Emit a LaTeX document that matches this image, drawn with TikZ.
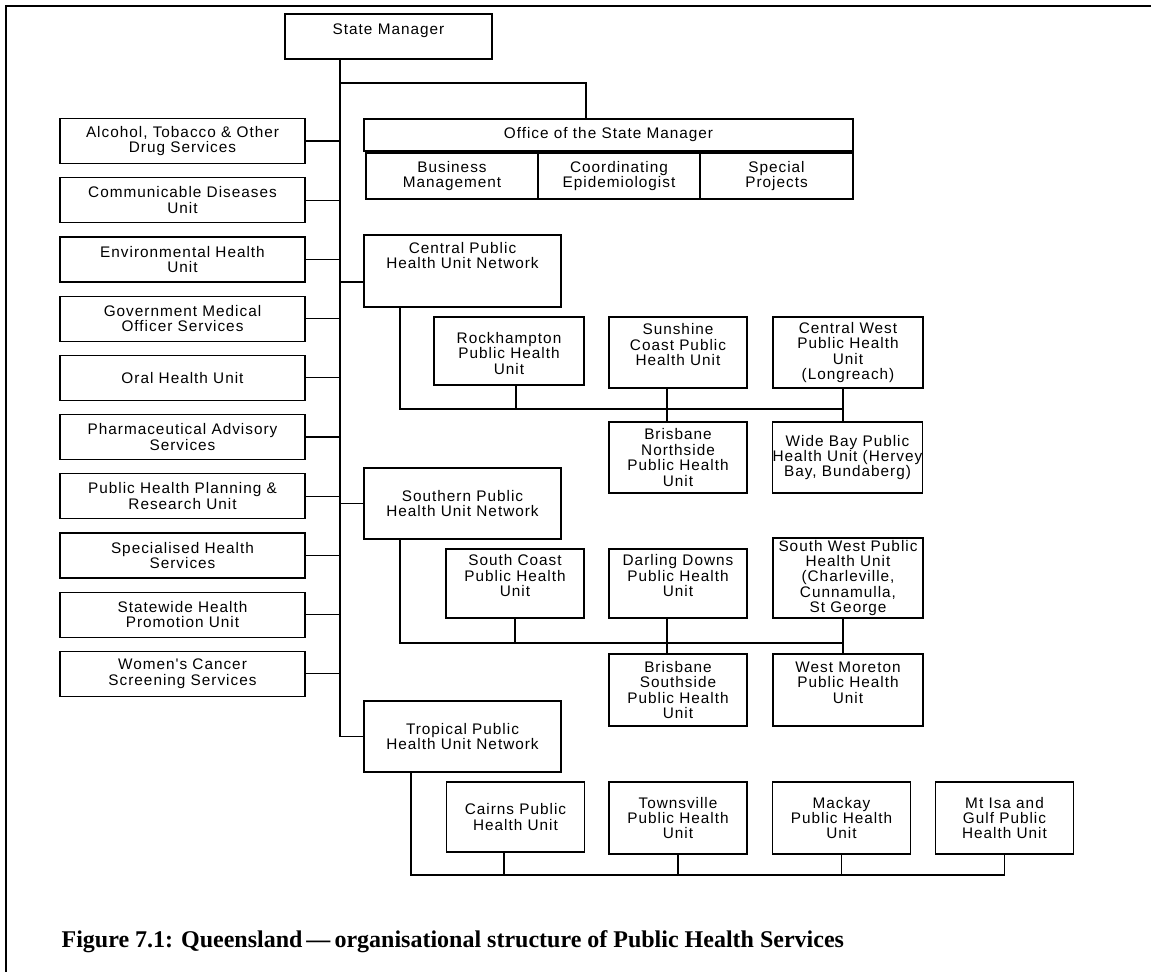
\documentclass[tikz,border=0pt]{standalone}
\usepackage{fontspec}
\setmainfont{Liberation Serif}
\newfontfamily\orgfont[LetterSpace=6.5]{Liberation Sans}
\usetikzlibrary{positioning}

\begin{document}
\begin{tikzpicture}[x=0.75pt,y=-0.75pt,line width=0.9pt,node distance=9.75pt]
        \tikzstyle{unit}=[draw,rectangle,align=center,inner sep=0pt,font=\orgfont\fontsize{11.5}{11.6}\selectfont]
        \tikzstyle{staff}=[unit,minimum width=183.75pt,minimum height=33.75pt]
        \tikzstyle{office}=[unit,minimum height=34.5pt,outer sep=0pt]
        \tikzstyle{network}=[unit,minimum width=147.75pt,minimum height=53.25pt]
        \tikzstyle{phu}=[unit,minimum width=103.5pt,minimum height=53.25pt]
        \tikzstyle{widephu}=[phu,minimum width=112.5pt]
        \tikzstyle{link}=[draw]

        \useasboundingbox (0,0) rectangle (1151,972);
        \draw[line width=1.6pt] (1151,6) -- (6,6) -- (6,972);

        \coordinate (spine) at (340,0);
        \coordinate (offtap) at (586,83);

        \node[unit,minimum width=155.25pt,minimum height=33.75pt] (SM) at (388.5,36.5) {State Manager\\\mbox{}};

        % office of the state manager
        \node[unit,minimum width=366.75pt,minimum height=24pt] (Off) at (608.5,135) {Office of the State Manager};
        \node[office,minimum width=129pt] (BusMan) at (452,176) {Business\\Management};
        \node[office,minimum width=121.5pt] (Epi) [right=0pt of BusMan] {Coordinating\\Epidemiologist};
        \node[office,minimum width=114.75pt] (SpecProj) [right=0pt of Epi] {Special\\Projects};

        % statewide units
        \node[staff] (ATOD) at (182.5,141)   {Alcohol, Tobacco \& Other\\Drug Services};
        \node[staff] (CDU)  [below=of ATOD]  {Communicable Diseases\\Unit};
        \node[staff] (EHU)  [below=of CDU]   {Environmental Health\\Unit};
        \node[staff] (GMO)  [below=of EHU]   {Government Medical\\Officer Services};
        \node[staff] (OHU)  [below=of GMO]   {Oral Health Unit};
        \node[staff] (PAS)  [below=of OHU]   {Pharmaceutical Advisory\\Services};
        \node[staff] (PHP)  [below=of PAS]   {Public Health Planning \&\\Research Unit};
        \node[staff] (SHS)  [below=of PHP]   {Specialised Health\\Services};
        \node[staff] (SHP)  [below=of SHS]   {Statewide Health\\Promotion Unit};
        \node[staff] (WCS)  [below=of SHP]   {Women's Cancer\\Screening Services};

        % networks
        \node[network,minimum height=54pt] (Cen) at (462.5,271)   {Central Public\\Health Unit Network\\\mbox{}\\\mbox{}};
        \node[network] (Sou) at (462.5,503.5) {Southern Public\\Health Unit Network};
        \node[network] (Tro) at (462.5,736.5) {Tropical Public\\Health Unit Network};

        % central units
        \node[widephu,minimum height=51pt] (Rock) at (509,351) {\mbox{}\\Rockhampton\\Public Health\\Unit};
        \node[phu] (Sun) at (678,352.5)    {Sunshine\\Coast Public\\Health Unit\\\mbox{}};
        \node[widephu] (CW) at (848,352.5) {Central West\\Public Health\\Unit\\(Longreach)};
        \node[phu] (BNS) at (678,457.5)    {Brisbane\\Northside\\Public Health\\Unit};
        \node[widephu] (WB) at (847.5,457.5) {Wide Bay Public\\Health Unit (Hervey\\Bay, Bundaberg)};

        % southern units
        \node[phu,minimum height=51.75pt] (SC) at (515,583.5) {South Coast\\Public Health\\Unit\\\mbox{}};
        \node[phu,minimum height=51.75pt] (DD) at (678,583.5) {Darling Downs\\Public Health\\Unit\\\mbox{}};
        \node[widephu,minimum height=60pt] (SW) at (848,578) {South West Public\\Health Unit\\(Charleville,\\Cunnamulla,\\St George};
        \node[phu,minimum height=54pt] (BSS) at (678,690) {Brisbane\\Southside\\Public Health\\Unit};
        \node[widephu,minimum height=54pt] (WM) at (848,690) {West Moreton\\Public Health\\Unit\\\mbox{}};

        % tropical units
        \node[phu,minimum height=52.5pt] (Cai) at (515.5,817) {Cairns Public\\Health Unit};
        \node[phu,minimum height=54pt] (Tow) at (678,818)    {Townsville\\Public Health\\Unit};
        \node[phu,minimum height=54pt] (Mac) at (841.5,818)  {Mackay\\Public Health\\Unit};
        \node[phu,minimum height=54pt] (MtI) at (1004.5,818) {Mt Isa and\\Gulf Public\\Health Unit};

        \coordinate (cbus) at (400,409);
        \coordinate (sbus) at (400,643);
        \coordinate (tbus) at (411,875);

        % trunk
        \draw (SM.south -| spine) -- (Tro.west -| spine);
        \draw (spine |- offtap) -- (offtap) -- (offtap |- Off.north);

        \path[link] (ATOD.east) edge (ATOD.east -| spine)
                    (CDU.east)  edge (CDU.east -| spine)
                    (EHU.east)  edge (EHU.east -| spine)
                    (GMO.east)  edge (GMO.east -| spine)
                    (OHU.east)  edge (OHU.east -| spine)
                    (PAS.east)  edge (PAS.east -| spine)
                    (PHP.east)  edge (PHP.east -| spine)
                    (SHS.east)  edge (SHS.east -| spine)
                    (SHP.east)  edge (SHP.east -| spine)
                    (WCS.east)  edge (WCS.east -| spine)
                    ([yshift=-8.25pt]Cen.west) edge ([yshift=-8.25pt]Cen.west -| spine)
                    (Sou.west)  edge (Sou.west -| spine)
                    (Tro.west)  edge (Tro.west -| spine)
        ;

        % central network
        \draw (Cen.south -| cbus) |- ([xshift=-3.75pt]CW.south |- cbus);
        \path[link] ([xshift=5.25pt]Rock.south) edge ([xshift=5.25pt]Rock.south |- cbus)
                    ([xshift=-8.25pt]Sun.south) edge ([xshift=-8.25pt]Sun.south |- BNS.north)
                    ([xshift=-3.75pt]CW.south)  edge ([xshift=-3.75pt]CW.south |- WB.north)
        ;

        % southern network
        \draw (Sou.south -| sbus) |- ([xshift=-3.75pt]SW.south |- sbus);
        \path[link] (SC.south) edge (SC.south |- sbus)
                    ([xshift=-8.25pt]DD.south) edge ([xshift=-8.25pt]DD.south |- BSS.north)
                    ([xshift=-3.75pt]SW.south) edge ([xshift=-3.75pt]SW.south |- WM.north)
        ;

        % tropical network
        \draw (Tro.south -| tbus) |- (MtI.south |- tbus);
        \path[link] ([xshift=-8.6pt]Cai.south) edge ([xshift=-8.6pt]Cai.south |- tbus)
                    (Tow.south) edge (Tow.south |- tbus)
                    (Mac.south) edge (Mac.south |- tbus)
                    (MtI.south) edge (MtI.south |- tbus)
        ;

        \node[anchor=base west,inner sep=0pt,font=\bfseries\fontsize{18}{21}\selectfont] (caption) at (61,947)
            {Figure 7.1: Queensland\,—\,organisational structure of Public Health Services};
\end{tikzpicture}
\end{document}
